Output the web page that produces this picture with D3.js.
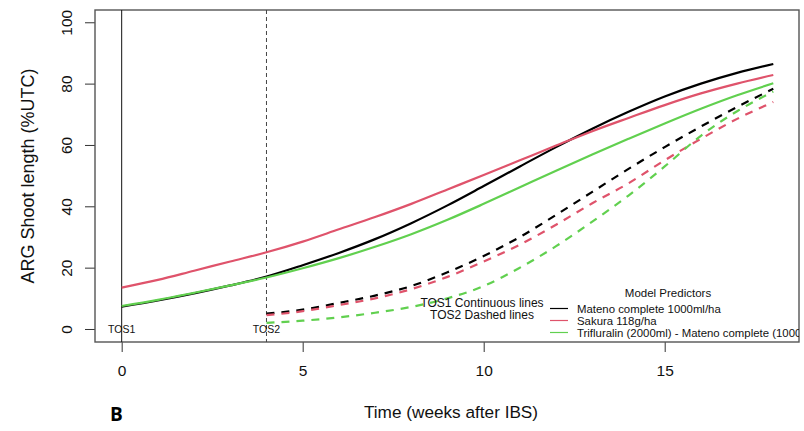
<!DOCTYPE html>
<html>
<head>
<meta charset="utf-8">
<script src="https://cdn.jsdelivr.net/npm/d3@7"></script>
<style>
  body { margin: 0; background: #fff; }
  text { font-family: "Liberation Sans", Arial, sans-serif; }
</style>
</head>
<body>
<div id="chart"></div>
<script>
// weeks after IBS
const weeksTOS1 = [0,1,2,3,4,5,6,7,8,9,10,11,12,13,14,15,16,17,18]
const weeksTOS2 = [4,5,6,7,8,9,10,11,12,13,14,15,16,17,18]

// TOS1 (continuous lines)
const matenoTOS1 = [7.3,9.3,11.6,14.2,17.1,20.8,24.8,29.3,34.5,40.3,46.6,53,59.3,65.3,70.8,75.8,80,83.5,86.4]
const sakuraTOS1 = [13.5,16,19,22,25,28.5,32.5,36.5,40.8,45.5,50.2,55,59.8,64.5,68.8,73,76.8,80,82.8]
const triflTOS1  = [7.5,9.5,11.8,14.2,16.8,19.8,23.1,26.8,30.9,35.6,40.8,46.2,51.6,56.9,62,67,71.8,76.2,80.1]

// TOS2 (dashed lines)
const matenoTOS2 = [5,6.3,8.5,10.9,14,18.5,23.8,30,37.2,44.7,52.2,59.3,66,72.4,78.3]
const sakuraTOS2 = [4.5,5.8,7.8,10,13,17,22,27.5,34,41,47.5,55,62,68.5,74]
const triflTOS2  = [2,2.7,3.8,5.3,7.2,10,14,20,27,35,43.5,53,63,71,77.4]

const legendLabels = ["Mateno complete 1000ml/ha", "Sakura 118g/ha", "Trifluralin (2000ml) - Mateno complete (1000ml/ha)"]
const colors = ["#000000", "#DF536B", "#61D04F"]
const xTicks = [0, 5, 10, 15]
const yTicks = [0, 20, 40, 60, 80, 100]

const W = 804, H = 431
const box = { left: 95, right: 799, top: 10, bottom: 342 }

const svg = d3.select("#chart").append("svg")
  .attr("width", W).attr("height", H)

const x = d3.scaleLinear().domain([-0.737, 18.71]).range([box.left, box.right])
const y = d3.scaleLinear().domain([-4.24, 104.0]).range([box.bottom, box.top])

svg.append("defs").append("clipPath").attr("id", "plotclip")
  .append("rect")
  .attr("x", box.left).attr("y", box.top)
  .attr("width", box.right - box.left).attr("height", box.bottom - box.top)

// x axis
const gx = svg.append("g")
  .attr("transform", "translate(0," + box.bottom + ")")
  .call(d3.axisBottom(x).tickValues(xTicks).tickSize(10).tickPadding(13).tickFormat(d3.format("d")))
gx.select(".domain").remove()
gx.selectAll("line").attr("stroke", "#333")
gx.selectAll("text").attr("font-size", "15.5px").attr("fill", "#111")
  .style("font-family", "Liberation Sans, Arial, sans-serif")

// y axis, labels rotated like R
const gy = svg.append("g")
  .attr("transform", "translate(" + box.left + ",0)")
  .call(d3.axisLeft(y).tickValues(yTicks).tickSize(10))
gy.select(".domain").remove()
gy.selectAll("line").attr("stroke", "#333")
gy.selectAll("text")
  .attr("x", 0).attr("y", -23).attr("dy", null)
  .attr("text-anchor", "middle")
  .attr("transform", "rotate(-90)")
  .attr("font-size", "15.5px").attr("fill", "#111")
  .style("font-family", "Liberation Sans, Arial, sans-serif")

// plot box
svg.append("rect")
  .attr("x", box.left).attr("y", box.top)
  .attr("width", box.right - box.left).attr("height", box.bottom - box.top)
  .attr("fill", "none").attr("stroke", "#555").attr("stroke-width", 1.4)

const plot = svg.append("g").attr("clip-path", "url(#plotclip)")

// TOS markers
plot.append("line")
  .attr("x1", x(0)).attr("x2", x(0)).attr("y1", box.top).attr("y2", box.bottom)
  .attr("stroke", "#111").attr("stroke-width", 1)
plot.append("line")
  .attr("x1", x(4)).attr("x2", x(4)).attr("y1", box.top).attr("y2", box.bottom)
  .attr("stroke", "#444").attr("stroke-width", 1).attr("stroke-dasharray", "4,3")

const line = d3.line().curve(d3.curveMonotoneX)
  .x(d => x(d[0])).y(d => y(d[1]))

const tos1 = [matenoTOS1, sakuraTOS1, triflTOS1]
const tos2 = [matenoTOS2, sakuraTOS2, triflTOS2]

tos1.forEach((vals, i) => {
  plot.append("path")
    .datum(weeksTOS1.map((w, j) => [w, vals[j]]))
    .attr("d", line)
    .attr("fill", "none").attr("stroke", colors[i]).attr("stroke-width", 2.2)
})
tos2.forEach((vals, i) => {
  plot.append("path")
    .datum(weeksTOS2.map((w, j) => [w, vals[j]]))
    .attr("d", line)
    .attr("fill", "none").attr("stroke", colors[i]).attr("stroke-width", 2.2)
    .attr("stroke-dasharray", "8,7")
})

// TOS labels
plot.append("text").attr("x", x(0)).attr("y", y(0) + 4.5)
  .attr("text-anchor", "middle").attr("font-size", "10.5px").attr("fill", "#111").text("TOS1")
plot.append("text").attr("x", x(4)).attr("y", y(0) + 4.5)
  .attr("text-anchor", "middle").attr("font-size", "10.5px").attr("fill", "#111").text("TOS2")

// text legend
plot.append("text").attr("x", 482).attr("y", 307)
  .attr("text-anchor", "middle").attr("font-size", "12px").attr("fill", "#111").text("TOS1 Continuous lines")
plot.append("text").attr("x", 482).attr("y", 318.5)
  .attr("text-anchor", "middle").attr("font-size", "12px").attr("fill", "#111").text("TOS2 Dashed lines")

// model legend
plot.append("text").attr("x", 668).attr("y", 297)
  .attr("text-anchor", "middle").attr("font-size", "11.5px").attr("fill", "#111").text("Model Predictors")
legendLabels.forEach((lab, i) => {
  const ly = 308.5 + i * 12
  plot.append("line")
    .attr("x1", 550).attr("x2", 568).attr("y1", ly).attr("y2", ly)
    .attr("stroke", colors[i]).attr("stroke-width", 1.2)
  plot.append("text").attr("x", 577).attr("y", ly + 4)
    .attr("font-size", "11.4px").attr("fill", "#111").text(lab)
})

// axis titles
svg.append("text").attr("x", 451).attr("y", 418)
  .attr("text-anchor", "middle").attr("font-size", "17.2px").attr("fill", "#111")
  .text("Time (weeks after IBS)")
svg.append("text")
  .attr("transform", "translate(34," + ((box.top + box.bottom) / 2) + ") rotate(-90)")
  .attr("text-anchor", "middle").attr("font-size", "18px").attr("fill", "#111")
  .text("ARG Shoot length (%UTC)")

svg.append("text").attr("x", 110).attr("y", 421)
  .style("font-family", "'Open Sans', sans-serif")
  .style("font-weight", "700").style("font-size", "19px").attr("fill", "#000")
  .text("B")
</script>
</body>
</html>
